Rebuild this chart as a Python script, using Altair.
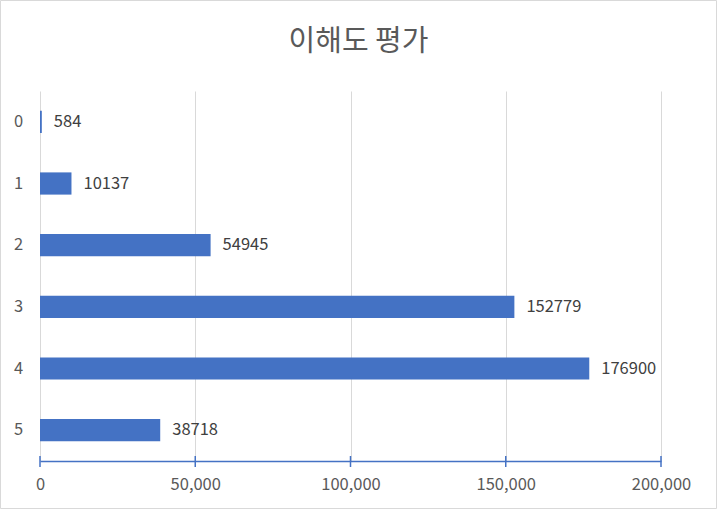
import altair as alt
import pandas as pd

categories = ["0", "1", "2", "3", "4", "5"]
values = [584, 10137, 54945, 152779, 176900, 38718]
tick_values = [0, 50000, 100000, 150000, 200000]
title_text = "이해도 평가"

df = pd.DataFrame({"cat": categories, "val": values})
ticks_df = pd.DataFrame({"t": tick_values})
title_df = pd.DataFrame({"title": [title_text]})

FONT = "Noto Sans CJK KR"
W, H = 621, 370

xscale = alt.Scale(domain=[0, 200000], nice=False)
yscale = alt.Scale(domain=categories, paddingInner=0.64, paddingOuter=0.32)

xaxis = alt.Axis(title=None, values=tick_values, format=",.0f", grid=True,
                 gridColor="#d9d9d9", gridWidth=1, labelFlush=False,
                 domainColor="#4472C4", domainWidth=1.5, ticks=False,
                 labelFontSize=16.5, labelColor="#595959", labelFont=FONT,
                 labelPadding=15)
yaxis = alt.Axis(title=None, domain=False, ticks=False, labelAngle=0,
                 labelFontSize=16.5, labelColor="#595959", labelFont=FONT,
                 labelAlign="center", labelPadding=22, grid=False)

bars = alt.Chart(df).mark_bar(color="#4472C4").encode(
    y=alt.Y("cat:N", sort=categories, scale=yscale, axis=yaxis),
    x=alt.X("val:Q", scale=xscale, axis=xaxis),
)

labels = alt.Chart(df).mark_text(align="left", baseline="middle", dx=12,
                                 fontSize=16.5, font=FONT, color="#404040").encode(
    y=alt.Y("cat:N", sort=categories, scale=yscale, axis=yaxis),
    x=alt.X("val:Q", scale=xscale, axis=xaxis),
    text=alt.Text("val:Q", format="d"),
)

tick_rules = alt.Chart(ticks_df).mark_rule(color="#4472C4", strokeWidth=1.5).encode(
    x=alt.X("t:Q", scale=xscale, axis=xaxis, title=None),
    y=alt.value(H - 5),
    y2=alt.value(H + 6),
)

title = alt.Chart(title_df).mark_text(fontSize=29, font=FONT, color="#595959",
                                      align="center", baseline="middle").encode(
    x=alt.value(318.5),
    y=alt.value(-49),
    text="title:N",
)

border = alt.Chart(title_df).mark_rect(fill=None, stroke="#d9d9d9", strokeWidth=1).encode(
    x=alt.value(-39.5), x2=alt.value(W + 55.5),
    y=alt.value(-90.5), y2=alt.value(H + 47.5),
)

chart = alt.layer(bars, labels, tick_rules, title, border).properties(
    width=W, height=H,
    autosize=alt.AutoSizeParams(type="none"),
    padding={"left": 40, "top": 91, "right": 56, "bottom": 48},
).configure(background="white", view=alt.ViewConfig(stroke=None))

chart.save("out.html", embed_options={"renderer": "svg", "actions": False})
